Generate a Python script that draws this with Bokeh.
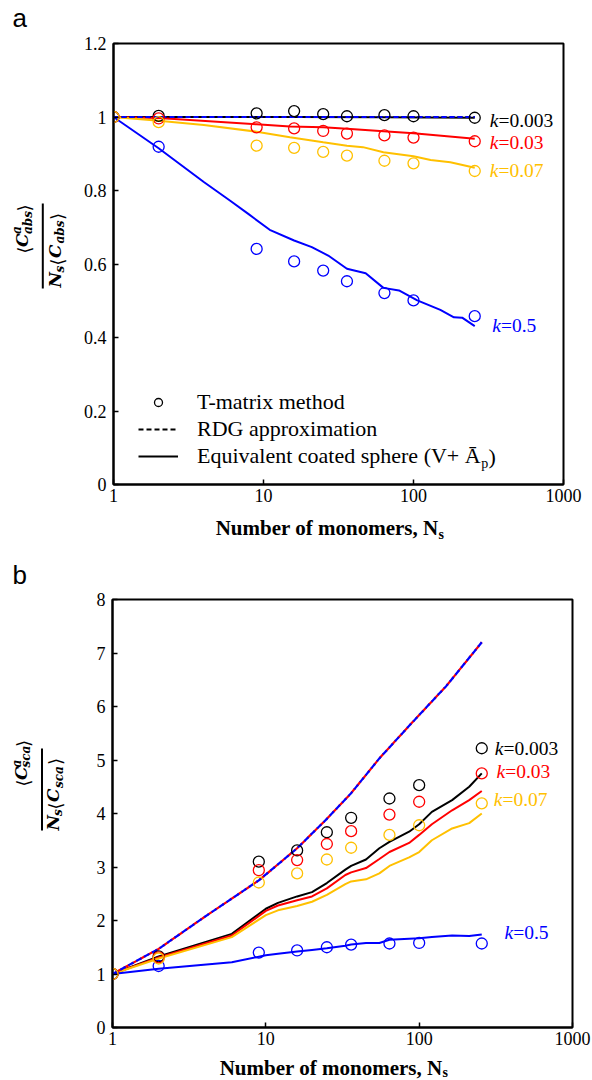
import math
from bokeh.plotting import figure
from bokeh.layouts import column, row
from bokeh.models import (FixedTicker, CustomJSTickFormatter, Label, Legend,
                          LegendItem, BoxAnnotation, Range1d)
from bokeh.embed import file_html
from bokeh.resources import INLINE

# ---------------- data ----------------
N_tmatrix = [1, 2, 9, 16, 25, 36, 64, 100, 256]

# panel a : absorption
abs_tm_k0003 = [1.0, 1.003, 1.010, 1.016, 1.008, 1.002, 1.005, 1.002, 0.998]
abs_tm_k003 = [1.0, 0.996, 0.972, 0.969, 0.962, 0.955, 0.950, 0.944, 0.934]
abs_tm_k007 = [1.0, 0.986, 0.922, 0.916, 0.905, 0.895, 0.881, 0.874, 0.853]
abs_tm_k05 = [1.0, 0.919, 0.641, 0.607, 0.582, 0.553, 0.521, 0.501, 0.458]

N_abs_ecs_k0003 = [1, 16, 64, 256]
abs_ecs_k0003 = [1.0, 1.0, 0.999, 0.998]
N_abs_ecs_k003 = [1, 2, 9, 15, 25, 36, 63, 100, 256]
abs_ecs_k003 = [1.0, 0.997, 0.980, 0.974, 0.972, 0.968, 0.961, 0.956, 0.941]
N_abs_ecs_k007 = [1, 2, 4, 9, 15, 25, 36, 46, 63, 100, 130, 176, 256]
abs_ecs_k007 = [1.0, 0.990, 0.978, 0.960, 0.945, 0.931, 0.922, 0.918, 0.904,
                0.893, 0.883, 0.877, 0.862]
N_abs_ecs_k05 = [1, 2, 4, 6, 8, 11, 16, 21, 27, 36, 48, 63, 80, 106, 151, 186, 211, 256]
abs_ecs_k05 = [1.0, 0.915, 0.823, 0.772, 0.735, 0.693, 0.664, 0.646, 0.623, 0.587,
               0.575, 0.535, 0.528, 0.501, 0.475, 0.455, 0.454, 0.431]

N_abs_rdg = [1, 256]
abs_rdg = [1.0, 1.0]

# panel b : scattering
sca_tm_k0003 = [1.0, 1.33, 3.10, 3.31, 3.65, 3.92, 4.28, 4.53, 5.22]
sca_tm_k003 = [1.0, 1.31, 2.94, 3.13, 3.43, 3.67, 3.98, 4.22, 4.75]
sca_tm_k007 = [1.0, 1.29, 2.71, 2.88, 3.14, 3.36, 3.60, 3.78, 4.19]
sca_tm_k05 = [1.0, 1.15, 1.40, 1.44, 1.50, 1.55, 1.57, 1.58, 1.57]

N_sca_ecs = [1, 2, 6, 10, 12, 16, 20, 25, 33, 36, 45, 55, 64, 86, 100, 121, 164, 212, 256]
sca_ecs_k0003 = [1.0, 1.33, 1.75, 2.22, 2.33, 2.45, 2.53, 2.70, 2.95, 3.02, 3.14,
                 3.35, 3.47, 3.66, 3.80, 4.03, 4.25, 4.50, 4.75]
sca_ecs_k003 = [1.0, 1.31, 1.72, 2.18, 2.28, 2.38, 2.45, 2.60, 2.85, 2.90, 2.98,
                3.15, 3.28, 3.45, 3.60, 3.80, 4.06, 4.25, 4.42]
sca_ecs_k007 = [1.0, 1.29, 1.69, 2.10, 2.19, 2.27, 2.35, 2.48, 2.68, 2.73, 2.77,
                2.88, 3.02, 3.18, 3.28, 3.50, 3.72, 3.82, 4.00]
sca_ecs_k05 = [1.0, 1.10, 1.22, 1.35, 1.38, 1.42, 1.45, 1.48, 1.53, 1.55, 1.58,
               1.58, 1.64, 1.66, 1.67, 1.69, 1.72, 1.71, 1.74]

N_sca_rdg = [1, 2, 4, 9, 16, 25, 36, 55, 90, 150, 256]
sca_rdg = [1.0, 1.47, 2.07, 2.75, 3.35, 3.90, 4.38, 5.03, 5.70, 6.38, 7.20]

k_values = ["0.003", "0.03", "0.07", "0.5"]
x_ticks = [1, 10, 100, 1000]
abs_y_ticks = [0, 0.2, 0.4, 0.6, 0.8, 1.0, 1.2]
sca_y_ticks = [0, 1, 2, 3, 4, 5, 6, 7, 8]

# ---------------- styles ----------------
COLORS = ["#000000", "#FF0000", "#FFC000", "#0000FF"]
SERIF = "Liberation Serif"
MATH = "DejaVu Serif"
BRACK = "DejaVu Sans"
ROT = math.pi / 2
MID = 0.34  # distance from baseline to the middle of the text box, in em


def make_fig(width, height, ymax, yticks, borders):
    lb, rb, tb, bb = borders
    p = figure(width=width, height=height, x_axis_type="log", x_range=(1, 1000),
               y_range=(0, ymax), output_backend="svg", toolbar_location=None,
               title_location=None, min_border_left=lb, min_border_right=rb,
               min_border_top=tb, min_border_bottom=bb)
    p.xgrid.visible = False
    p.ygrid.visible = False
    p.background_fill_color = "white"
    p.border_fill_color = "white"
    p.outline_line_color = "black"
    p.outline_line_width = 2
    p.outline_line_alpha = 1
    for ax in (p.xaxis[0], p.yaxis[0]):
        ax.axis_line_width = 2
        ax.axis_line_color = "black"
        ax.major_tick_in = 5
        ax.major_tick_out = 0
        ax.minor_tick_in = 0
        ax.minor_tick_out = 0
        ax.major_tick_line_width = 1.5
        ax.major_tick_line_color = "black"
        ax.major_label_text_font = SERIF
        ax.major_label_text_font_size = "18px"
        ax.major_label_text_color = "black"
    p.xaxis.ticker = FixedTicker(ticks=x_ticks, minor_ticks=[])
    p.xaxis.formatter = CustomJSTickFormatter(code="return String(Math.round(tick));")
    p.xaxis.major_label_standoff = 4
    p.yaxis.ticker = FixedTicker(ticks=yticks, minor_ticks=[])
    p.yaxis.formatter = CustomJSTickFormatter(
        code="return String(Math.round(tick*10)/10);")
    p.yaxis.major_label_standoff = 7
    return p


def make_label(x, y, s, size, font, style, color, align, angle, units):
    # (x, y) given at the text baseline; the label is anchored at its middle
    if angle:
        x = x - MID * size
    else:
        y = y + MID * size
    return Label(x=x, y=y, x_units=units, y_units=units, text=s, text_font=font,
                 text_font_size=f"{size}px", text_font_style=style,
                 text_color=color, text_align=align, text_baseline="middle",
                 angle=angle)


class Strip:
    """Blank figure for texts outside the plot frames; page coords map to its frame."""

    def __init__(self, left, top, width, height, border_top=0, border_bottom=0):
        self.fl = left
        self.fb = top + height - border_bottom
        fw, fh = width, height - border_top - border_bottom
        self.p = figure(width=width, height=height, x_range=Range1d(0, fw),
                        y_range=Range1d(0, fh), output_backend="svg",
                        toolbar_location=None, title_location=None,
                        x_axis_location=None, y_axis_location=None,
                        min_border_left=0, min_border_right=0,
                        min_border_top=border_top, min_border_bottom=border_bottom)
        self.p.xgrid.visible = False
        self.p.ygrid.visible = False
        self.p.outline_line_color = None
        self.p.background_fill_color = "white"
        self.p.border_fill_color = "white"

    def text(self, px, py, s, size, font=SERIF, style="normal", color="black",
             align="left", angle=0.0):
        self.p.add_layout(make_label(px - self.fl, self.fb - py, s, size, font, style,
                                     color, align, angle, "data"))

    def bar(self, x0, x1, y0, y1):
        self.p.add_layout(BoxAnnotation(left=x0 - self.fl, right=x1 - self.fl,
                                        top=self.fb - y0, bottom=self.fb - y1,
                                        fill_color="black", fill_alpha=1.0,
                                        line_color=None))

    def fraction(self, num, den, bar_x, bar_y0, bar_y1):
        for pieces in (num, den):
            for s, y0, xb, kind in pieces:
                if kind == "br":
                    self.text(xb, y0, s, 18, font=BRACK, angle=ROT)
                elif kind == "main":
                    self.text(xb, y0, s, 17, font=MATH, style="bold italic", angle=ROT)
                else:
                    self.text(xb, y0, s, 12, font=MATH, style="bold italic", angle=ROT)
        self.bar(bar_x - 1, bar_x + 1, bar_y0, bar_y1)


def ftext(p, FL, FB, px, py, s, size, font=SERIF, style="normal", color="black",
          align="left"):
    p.add_layout(make_label(px - FL, FB - py, s, size, font, style, color, align,
                            0.0, "screen"))


# ================= panel a =================
# page rows: letter strip 0-32, plot row 32-515, title strip 515-553
A_TOP, A_H = 32, 483
FL1, FB1 = 113, 484
pa = make_fig(519, A_H, 1.2, abs_y_ticks, (40, 29, 43 - A_TOP, A_TOP + A_H - FB1))

ecs_a = [(N_abs_ecs_k0003, abs_ecs_k0003), (N_abs_ecs_k003, abs_ecs_k003),
         (N_abs_ecs_k007, abs_ecs_k007), (N_abs_ecs_k05, abs_ecs_k05)]
ecs_a_r = []
for (xs, ys), c in zip(ecs_a, COLORS):
    ecs_a_r.append(pa.line(xs, ys, line_color=c, line_width=2))
rdg_a_black = pa.line(N_abs_rdg, abs_rdg, line_color=COLORS[0], line_width=2,
                      line_dash="5 3")
pa.line(N_abs_rdg, abs_rdg, line_color=COLORS[3], line_width=2, line_dash="5 3")
tm_a = [abs_tm_k0003, abs_tm_k003, abs_tm_k007, abs_tm_k05]
tm_a_r = {}
for i in (3, 0, 1, 2):
    tm_a_r[i] = pa.scatter(N_tmatrix, tm_a[i], marker="circle", size=11,
                           fill_color=None, line_color=COLORS[i], line_width=1.3)

legend = Legend(items=[LegendItem(label="T-matrix method", renderers=[tm_a_r[0]]),
                       LegendItem(label="RDG approximation", renderers=[rdg_a_black]),
                       LegendItem(label="Equivalent coated sphere (V+ \u0100",
                                  renderers=[ecs_a_r[0]])],
                location=(25, 15), orientation="vertical",
                label_text_font=SERIF, label_text_font_size="22px",
                label_text_color="black",
                glyph_width=40, glyph_height=20, label_height=20, label_standoff=19,
                spacing=1, padding=0, margin=0, border_line_color=None,
                background_fill_alpha=0)
pa.add_layout(legend)
ftext(pa, FL1, FB1, 480.7, 467.5, "p", 14)
ftext(pa, FL1, FB1, 488.0, 463.5, ")", 22)

k_pos_a = [(489.3, 126.7), (489.3, 148.3), (489.3, 176.7), (491.7, 331.7)]
for kv, (kx, ky), c in zip(k_values, k_pos_a, COLORS):
    ftext(pa, FL1, FB1, kx + 8.7, ky, "k", 19.5, style="italic", color=c, align="right")
    ftext(pa, FL1, FB1, kx + 8.7, ky, "=" + kv, 19.5, color=c)

la = Strip(0, 0, 592, A_TOP)
la.text(12, 26, "a", 26, font="Liberation Sans")

sa = Strip(0, A_TOP, 73, A_H, border_top=43 - A_TOP, border_bottom=A_TOP + A_H - FB1)
num_a = [("\u27e8", 253.0, 30.0, "br"), ("C", 246.4, 27, "main"),
         ("a", 233.5, 21, "sub"), ("abs", 233.5, 32, "sub"), ("\u27e9", 211.0, 30.0, "br")]
den_a = [("N", 287.0, 60, "main"), ("s", 272.0, 63.5, "sub"),
         ("\u27e8", 265.0, 63.0, "br"), ("C", 257.5, 60, "main"),
         ("abs", 243.0, 64, "sub"), ("\u27e9", 219.5, 63.0, "br")]
sa.fraction(num_a, den_a, 42.3, 203, 288)

ta = Strip(0, 515, 592, 38)
ta.text(438, 535, "Number of monomers, N", 21, style="bold", align="right")
ta.text(438, 539, "s", 14, style="bold")

# ================= panel b =================
# page rows: letter strip 553-589, plot row 589-1057, title strip 1057-1080
B_TOP, B_H = 589, 468
FL2, FB2 = 112, 1027
pb = make_fig(519, B_H, 8, sca_y_ticks, (39, 20, 599 - B_TOP, B_TOP + B_H - FB2))

ecs_b = [sca_ecs_k0003, sca_ecs_k003, sca_ecs_k007, sca_ecs_k05]
for ys, c in zip(ecs_b, COLORS):
    pb.line(N_sca_ecs, ys, line_color=c, line_width=2)
pb.line(N_sca_rdg, sca_rdg, line_color=COLORS[1], line_width=2.2, line_dash="6 3",
        line_dash_offset=5)
pb.line(N_sca_rdg, sca_rdg, line_color=COLORS[3], line_width=2.2, line_dash="6 3")
tm_b = [sca_tm_k0003, sca_tm_k003, sca_tm_k007, sca_tm_k05]
for i in (3, 0, 1, 2):
    pb.scatter(N_tmatrix, tm_b[i], marker="circle", size=11, fill_color=None,
               line_color=COLORS[i], line_width=1.3)

k_pos_b = [(494.3, 755.0), (496.0, 777.3), (493.3, 805.7), (504.0, 938.3)]
for kv, (kx, ky), c in zip(k_values, k_pos_b, COLORS):
    ftext(pb, FL2, FB2, kx + 8.7, ky, "k", 19.5, style="italic", color=c, align="right")
    ftext(pb, FL2, FB2, kx + 8.7, ky, "=" + kv, 19.5, color=c)

lb = Strip(0, 553, 592, B_TOP - 553)
lb.text(12, 583, "b", 26, font="Liberation Sans")

sb = Strip(0, B_TOP, 73, B_H, border_top=599 - B_TOP, border_bottom=B_TOP + B_H - FB2)
num_b = [("\u27e8", 786.0, 29.0, "br"), ("C", 779.5, 26.5, "main"),
         ("a", 767.0, 20.5, "sub"), ("sca", 767.0, 30, "sub"), ("\u27e9", 746.5, 29.0, "br")]
den_b = [("N", 830.0, 58.5, "main"), ("s", 815.5, 62, "sub"),
         ("\u27e8", 809.0, 61.5, "br"), ("C", 801.5, 58.5, "main"),
         ("sca", 787.5, 62.5, "sub"), ("\u27e9", 764.5, 61.5, "br")]
sb.fraction(num_b, den_b, 41.5, 748, 830)

tb = Strip(0, 1057, 592, 23)
tb.text(442, 1075, "Number of monomers, N", 21, style="bold", align="right")
tb.text(442, 1077, "s", 14, style="bold")

layout = column(la.p, row(sa.p, pa), ta.p, lb.p, row(sb.p, pb), tb.p)
open("out.html", "w").write(file_html(layout, INLINE))
